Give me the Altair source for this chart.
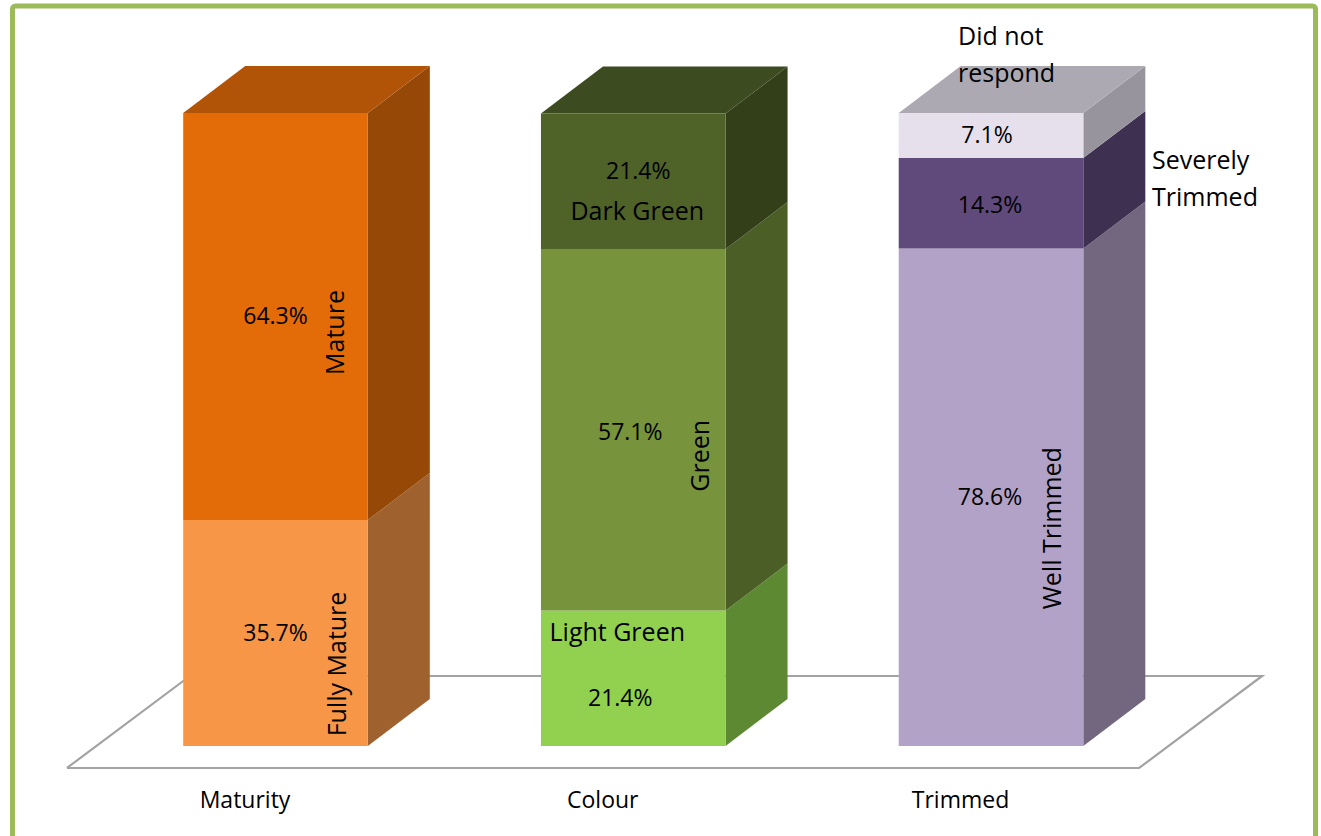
import altair as alt
import pandas as pd

# ---- data -------------------------------------------------------------
categories = ["Maturity", "Colour", "Trimmed"]

maturity_segments = ["Fully Mature", "Mature"]
maturity_values = [35.7, 64.3]

colour_segments = ["Light Green", "Green", "Dark Green"]
colour_values = [21.4, 57.1, 21.4]

trimmed_segments = ["Well Trimmed", "Severely Trimmed", "Did not respond"]
trimmed_values = [78.6, 14.3, 7.1]

stacks = [
    (maturity_segments, maturity_values),
    (colour_segments, colour_values),
    (trimmed_segments, trimmed_values),
]

# ---- styling ----------------------------------------------------------
# front, side and top colours of every segment
face_colours = {
    "Fully Mature": ("#F79646", "#9F622E", "#B8702F"),
    "Mature": ("#E36C09", "#964806", "#B25408"),
    "Light Green": ("#92D050", "#5C8932", "#6E9E3C"),
    "Green": ("#77933C", "#4B5E26", "#5A712D"),
    "Dark Green": ("#4F6228", "#333F19", "#3D4B20"),
    "Well Trimmed": ("#B3A2C7", "#72677F", "#8C7F9C"),
    "Severely Trimmed": ("#604A7B", "#3E3050", "#4A3A5E"),
    "Did not respond": ("#E6E0EC", "#98949D", "#ADA9B2"),
}

FONT = "Open Sans"
W, H = 1321, 836
X_DOMAIN = [-0.7701, 2.9224]        # category units
Y_DOMAIN = [-14.22, 117.85]         # percent
PX_X = W / (X_DOMAIN[1] - X_DOMAIN[0])
PX_Y = H / (Y_DOMAIN[1] - Y_DOMAIN[0])

BAR_HALF = 0.258                    # half width of a column, category units
DEPTH_X = 62 / PX_X                 # 3-D depth of the columns
DEPTH_Y = 47 / PX_Y

# floor parallelogram
FLOOR_FRONT_Y = -22 / PX_Y
FLOOR_BACK_Y = 70 / PX_Y
FLOOR_LEFT = -0.583
FLOOR_RIGHT = 2.414
FLOOR_SHIFT = 123 / PX_X

# label placement: pixel offsets from the segment centre
# value label (dx, dy); name label (dx, dy, angle, align)
value_offsets = {
    "Fully Mature": (0, 1), "Mature": (0, 1),
    "Light Green": (-13, 21), "Green": (-3, 3), "Dark Green": (5, -9),
    "Well Trimmed": (-1, 1), "Severely Trimmed": (-1, 3), "Did not respond": (-4, 1),
}
name_offsets = {
    "Fully Mature": (62, 31, 270, "center"),
    "Mature": (60, 16, 270, "center"),
    "Light Green": (-16, -45, 0, "center"),
    "Green": (68, 26, 270, "center"),
    "Dark Green": (4, 31, 0, "center"),
    "Well Trimmed": (62, 31, 270, "center"),
    "Severely Trimmed": (161, -42, 0, "left"),
    "Did not respond": (-33, -98, 0, "left"),
}
name_lines = {"Severely Trimmed": "Severely\nTrimmed", "Did not respond": "Did not\nrespond"}

# ---- geometry tables ---------------------------------------------------
fronts, sides, tops, values_txt, names_txt, cats_txt = [], [], [], [], [], []
for i, (segs, vals) in enumerate(stacks):
    xl, xr = i - BAR_HALF, i + BAR_HALF
    base = 0.0
    for j, (seg, v) in enumerate(zip(segs, vals)):
        y0, y1 = base, base + v
        base = y1
        front, side, top = face_colours[seg]
        fronts.append(dict(x=xl, x2=xr, y=y0, y2=y1, c=front))
        sides.append(dict(f=seg, x=xr, lo=y0, hi=y1, c=side))
        sides.append(dict(f=seg, x=xr + DEPTH_X, lo=y0 + DEPTH_Y, hi=y1 + DEPTH_Y, c=side))
        if j == len(segs) - 1:
            tops.append(dict(f=seg, y=y1, a=xl, b=xr, c=top))
            tops.append(dict(f=seg, y=y1 + DEPTH_Y, a=xl + DEPTH_X, b=xr + DEPTH_X, c=top))
        mid = (y0 + y1) / 2
        dx, dy = value_offsets[seg]
        values_txt.append(dict(x=i + dx / PX_X, y=mid - dy / PX_Y, t=f"{v:.1f}%"))
        dx, dy, ang, al = name_offsets[seg]
        names_txt.append(dict(x=i + dx / PX_X, y=mid - dy / PX_Y, t=name_lines.get(seg, seg),
                              angle=ang, align=al))
    cats_txt.append(dict(x=i - 30.5 / PX_X, y=-55 / PX_Y, t=categories[i]))

fronts = pd.DataFrame(fronts)
sides = pd.DataFrame(sides)
tops = pd.DataFrame(tops)
values_txt = pd.DataFrame(values_txt)
names_txt = pd.DataFrame(names_txt)
cats_txt = pd.DataFrame(cats_txt)

floor = pd.DataFrame(dict(
    k=[0, 1, 2, 3, 4],
    x=[FLOOR_LEFT, FLOOR_RIGHT, FLOOR_RIGHT + FLOOR_SHIFT, FLOOR_LEFT + FLOOR_SHIFT, FLOOR_LEFT],
    y=[FLOOR_FRONT_Y, FLOOR_FRONT_Y, FLOOR_BACK_Y, FLOOR_BACK_Y, FLOOR_FRONT_Y],
))

xs = alt.Scale(domain=X_DOMAIN, nice=False, zero=False)
ys = alt.Scale(domain=Y_DOMAIN, nice=False, zero=False)


def X(field):
    return alt.X(field, type="quantitative", scale=xs, axis=None)


def Y(field):
    return alt.Y(field, type="quantitative", scale=ys, axis=None)


floor_layer = alt.Chart(floor).mark_line(color="#A3A3A3", strokeWidth=2.2).encode(
    x=X("x"), y=Y("y"), order="k:Q"
)

side_layer = alt.Chart(sides).mark_area(orient="vertical", opacity=1).encode(
    x=X("x"), y=Y("lo"), y2="hi", detail="f:N", color=alt.Color("c:N", scale=None)
)

top_layer = alt.Chart(tops).mark_area(orient="horizontal", opacity=1).encode(
    y=Y("y"), x=X("a"), x2="b", detail="f:N", color=alt.Color("c:N", scale=None)
)

front_layer = alt.Chart(fronts).mark_rect().encode(
    x=X("x"), x2="x2", y=Y("y"), y2="y2", color=alt.Color("c:N", scale=None)
)

value_layer = alt.Chart(values_txt).mark_text(
    font=FONT, fontSize=23, color="#000000", baseline="middle", align="center"
).encode(x=X("x"), y=Y("y"), text="t:N")

name_center = alt.Chart(names_txt[names_txt["align"] == "center"]).mark_text(
    font=FONT, fontSize=25, color="#000000", baseline="middle", align="center"
).encode(x=X("x"), y=Y("y"), text="t:N", angle=alt.Angle("angle:Q", scale=None))

name_left = alt.Chart(names_txt[names_txt["align"] == "left"]).mark_text(
    font=FONT, fontSize=25, color="#000000", baseline="middle", align="left",
    lineBreak="\n", lineHeight=37
).encode(x=X("x"), y=Y("y"), text="t:N")

cat_layer = alt.Chart(cats_txt).mark_text(
    font=FONT, fontSize=23, color="#000000", baseline="middle", align="center"
).encode(x=X("x"), y=Y("y"), text="t:N")

frame = alt.Chart(cats_txt.head(1)).mark_rect(
    fill=None, stroke="#9BBB59", strokeWidth=5, cornerRadius=3
).encode(x=alt.value(12.5), x2=alt.value(1315.5), y=alt.value(6), y2=alt.value(900))

chart = alt.layer(
    floor_layer, side_layer, top_layer, front_layer,
    value_layer, name_center, name_left, cat_layer, frame
).properties(
    width=W, height=H, autosize=alt.AutoSizeParams(type="none"), padding=0,
    background="white"
).configure_view(stroke=None, clip=False)

chart.save("out.html", embed_options={"renderer": "svg", "actions": False})
